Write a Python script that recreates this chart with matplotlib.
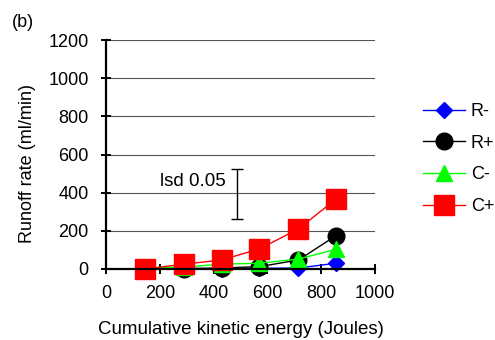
import matplotlib
matplotlib.use("Agg")
import matplotlib.pyplot as plt

plt.rcParams["font.family"] = ["Liberation Sans", "DejaVu Sans"]

energy = [145, 290, 430, 570, 715, 855]
r_minus = [0, 0, 2, 3, 5, 30]
r_plus = [0, 2, 5, 12, 47, 175]
c_minus = [5, 10, 25, 30, 52, 103]
c_plus = [0, 25, 47, 105, 210, 367]
lsd_x = 488
lsd_lo, lsd_hi = 264, 524

FS = 13

fig = plt.figure(figsize=(4.95, 3.4), dpi=100)
ax = fig.add_axes([0.214, 0.209, 0.544, 0.673])

ax.plot(energy, r_minus, color="#0000ff", marker="D", ms=8, lw=1, label="R-", clip_on=False)
ax.plot(energy, r_plus, color="black", marker="o", ms=12, lw=1, label="R+", clip_on=False)
ax.plot(energy, c_minus, color="#00ff00", marker="^", ms=11, lw=1, label="C-", clip_on=False)
ax.plot(energy, c_plus, color="#ff0000", marker="s", ms=14, lw=1, label="C+", clip_on=False)

ax.errorbar([lsd_x], [(lsd_lo + lsd_hi) / 2], yerr=[(lsd_hi - lsd_lo) / 2],
            color="black", lw=1, capsize=4, capthick=1)
ax.text(446, 456, "lsd 0.05", ha="right", va="center", fontsize=13.5)

ax.set_xlim(0, 1000)
ax.set_ylim(0, 1200)
ax.set_xticks(range(0, 1001, 200))
ax.set_yticks(range(0, 1201, 200))
ax.yaxis.grid(True, color="#555555", lw=0.8)
ax.set_axisbelow(True)
for s in ["top", "right"]:
    ax.spines[s].set_visible(False)
for s in ["left", "bottom"]:
    ax.spines[s].set_linewidth(1.6)
ax.tick_params(direction="inout", length=7, width=1.4, labelsize=FS)
ax.tick_params(axis="x", pad=8)
ax.tick_params(axis="y", pad=9)
ax.set_xlabel("Cumulative kinetic energy (Joules)", fontsize=13.5, va="center")
ax.xaxis.set_label_coords(0.5, -0.266)
ax.set_ylabel("Runoff rate (ml/min)", fontsize=FS, va="center")
ax.yaxis.set_label_coords(-0.29, 0.46)

fig.text(12 / 495, 0.935, "(b)", fontsize=FS, va="center")

fig.legend(loc="upper left", bbox_to_anchor=(0.855, 0.697), frameon=False,
           fontsize=FS, handlelength=2.33, labelspacing=0.81, handletextpad=0.3,
           borderpad=0, borderaxespad=0)

fig.savefig("out.png", dpi=100)
